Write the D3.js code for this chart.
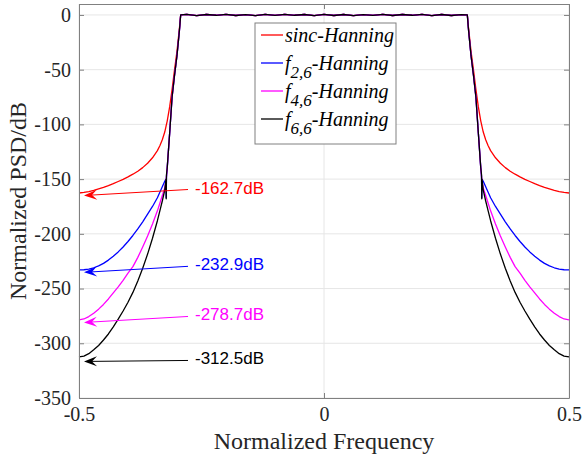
<!DOCTYPE html>
<html>
<head>
<meta charset="utf-8">
<script src="https://cdn.jsdelivr.net/npm/d3@7/dist/d3.min.js"></script>
<style>
  body { margin: 0; background: #fff; }
</style>
</head>
<body>
<div class="chart"></div>
<script>
// |frequency| grid of the stopband, the spectrum is symmetric about 0
const stopFreq = [0.2925, 0.295, 0.30, 0.305, 0.31, 0.315, 0.32, 0.3215, 0.322, 0.3225, 0.325, 0.33, 0.335, 0.34,
  0.35, 0.36, 0.37, 0.38, 0.39, 0.40, 0.41, 0.42, 0.43, 0.44, 0.45, 0.46, 0.47, 0.48, 0.49, 0.50];

const sincHann = [0, -12, -33, -50, -68, -84, -97, -100, -101, -102, -107, -114, -119.5, -124,
  -130.5, -135.5, -139.5, -142.8, -145.5, -148, -150.2, -152.2, -154.2, -156, -157.6, -159, -160.3, -161.4, -162.2, -162.7];
const f26Hann = [0, -14, -37, -55, -75, -108, -140, -148, -167, -150, -152, -157, -162, -167,
  -175, -182, -189, -195.5, -201.5, -207, -212, -216.5, -220.5, -224, -227, -229.3, -231, -232.2, -232.8, -232.9];
const f46Hann = [0, -14, -37, -55, -75, -108, -140, -148, -150, -152, -158, -165, -172, -179,
  -191, -202, -212, -221.5, -230, -236, -242.5, -248.5, -254, -259.5, -264.5, -268.8, -272.5, -275.6, -277.8, -278.7];
const f66Hann = [0, -14, -37, -55, -75, -108, -140, -146, -168, -150, -160, -170, -179, -188,
  -204, -218.5, -231.5, -243, -253.5, -262.5, -270.5, -278, -285, -291.5, -297, -302, -306, -309.5, -311.7, -312.5];

// passband ripple (dB) between the two band edges
const passFreq = [-0.28, -0.26, -0.24, -0.22, -0.20, -0.18, -0.16, -0.14, -0.12, -0.10, -0.08, -0.06, -0.04, -0.02, 0,
  0.02, 0.04, 0.06, 0.08, 0.10, 0.12, 0.14, 0.16, 0.18, 0.20, 0.22, 0.24, 0.26, 0.28];
const passDb = [0.5, -0.6, 0.4, -0.3, 0.6, -0.5, 0.3, -0.6, 0.5, -0.4, 0.6, -0.3, 0.4, -0.6, 0.5,
  -0.5, 0.4, -0.6, 0.3, -0.4, 0.6, -0.5, 0.4, -0.3, 0.6, -0.6, 0.4, -0.5, 0.3];

const seriesValues = [sincHann, f26Hann, f46Hann, f66Hann];
const seriesColors = ['#ff0000', '#0000ff', '#ff00ff', '#000000'];

const endLabels = ['-162.7dB', '-232.9dB', '-278.7dB', '-312.5dB'];
const endValues = [-162.7, -232.9, -278.7, -312.5];

const xTicks = [-0.5, 0, 0.5];
const yTicks = [0, -50, -100, -150, -200, -250, -300, -350];

const width = 583, height = 461;
const box = { left: 79, right: 569, top: 4, bottom: 398 };
const serif = '"Liberation Serif", "Times New Roman", serif';

const svg = d3.select('.chart')
  .append('svg')
  .attr('width', width)
  .attr('height', height);

const x = d3.scaleLinear().domain([-0.5, 0.5]).range([box.left, box.right]);
const y = d3.scaleLinear().domain([-350, 10]).range([box.bottom, box.top]);

// grid
svg.append('g')
  .selectAll('line')
  .data(yTicks)
  .enter().append('line')
  .attr('x1', box.left).attr('x2', box.right)
  .attr('y1', d => y(d)).attr('y2', d => y(d))
  .attr('stroke', '#e6e6e6').attr('stroke-width', 1);
svg.append('g')
  .selectAll('line')
  .data(xTicks)
  .enter().append('line')
  .attr('x1', d => x(d)).attr('x2', d => x(d))
  .attr('y1', box.top).attr('y2', box.bottom)
  .attr('stroke', '#e6e6e6').attr('stroke-width', 1);

// build each full curve: left stopband, passband, right stopband
const buildSeries = vals => {
  const pts = [];
  for (let i = stopFreq.length - 1; i >= 0; i--) pts.push([-stopFreq[i], vals[i]]);
  passFreq.forEach((f, i) => pts.push([f, passDb[i]]));
  for (let i = 0; i < stopFreq.length; i++) pts.push([stopFreq[i], vals[i]]);
  return pts;
};

const line = d3.line()
  .x(d => x(d[0]))
  .y(d => y(d[1]));

svg.append('g')
  .selectAll('path')
  .data(seriesValues)
  .enter().append('path')
  .attr('d', d => line(buildSeries(d)))
  .attr('fill', 'none')
  .attr('stroke', (d, i) => seriesColors[i])
  .attr('stroke-width', 1.3)
  .attr('stroke-linejoin', 'round');

// axes (box with inward ticks)
const axisStyle = g => {
  g.attr('font-family', serif).attr('font-size', 20);
  g.select('.domain').attr('stroke', '#808080');
  g.selectAll('.tick line').attr('stroke', '#808080');
  g.selectAll('.tick text').attr('fill', '#262626');
};
const fmt = d => String(d);

svg.append('g')
  .attr('transform', `translate(${box.left},0)`)
  .call(d3.axisLeft(y).tickValues(yTicks).tickSizeInner(-5).tickSizeOuter(0).tickPadding(8).tickFormat(fmt))
  .call(axisStyle);
svg.append('g')
  .attr('transform', `translate(${box.right},0)`)
  .call(d3.axisRight(y).tickValues(yTicks).tickSizeInner(-5).tickSizeOuter(0).tickFormat(''))
  .call(axisStyle);
svg.append('g')
  .attr('transform', `translate(0,${box.bottom})`)
  .call(d3.axisBottom(x).tickValues(xTicks).tickSizeInner(-5).tickSizeOuter(0).tickPadding(9).tickFormat(fmt))
  .call(axisStyle);
svg.append('g')
  .attr('transform', `translate(0,${box.top})`)
  .call(d3.axisTop(x).tickValues(xTicks).tickSizeInner(-5).tickSizeOuter(0).tickFormat(''))
  .call(axisStyle);

// axis titles
svg.append('text')
  .attr('x', (box.left + box.right) / 2)
  .attr('y', 449)
  .attr('text-anchor', 'middle')
  .attr('font-family', serif)
  .attr('font-size', 24)
  .attr('fill', '#262626')
  .text('Normalized Frequency');
svg.append('text')
  .attr('transform', `translate(26,${(box.top + box.bottom) / 2}) rotate(-90)`)
  .attr('text-anchor', 'middle')
  .attr('font-family', serif)
  .attr('font-size', 24)
  .attr('fill', '#262626')
  .text('Normalized PSD/dB');

// end-value annotations with arrows
const arrowRise = [6, 6, 6, 1];
const tipDrop = [2.5, 2.5, 2.5, 4.5];
const anno = svg.append('g');
endValues.forEach((v, i) => {
  const tipX = x(-0.5) + 5, tipY = y(v) + tipDrop[i];
  const tailX = 188, tailY = tipY - arrowRise[i];
  const c = seriesColors[i];
  anno.append('line')
    .attr('x1', tailX).attr('y1', tailY)
    .attr('x2', tipX + 8).attr('y2', tipY - arrowRise[i] * 8 / (tailX - tipX))
    .attr('stroke', c).attr('stroke-width', 1);
  const ang = Math.atan2(tailY - tipY, tailX - tipX) * 180 / Math.PI;
  anno.append('path')
    .attr('d', 'M0,0 L13,-5 L8,0 L13,5 Z')
    .attr('transform', `translate(${tipX},${tipY}) rotate(${ang})`)
    .attr('fill', c);
  anno.append('text')
    .attr('x', 195)
    .attr('y', tailY + 4)
    .attr('font-size', 17)
    .attr('font-family', '"Liberation Sans", Arial, sans-serif')
    .attr('fill', c)
    .text(endLabels[i]);
});

// legend
const lg = svg.append('g').attr('transform', 'translate(255,23)');
lg.append('rect')
  .attr('width', 141).attr('height', 121)
  .attr('fill', '#fff').attr('stroke', '#808080').attr('stroke-width', 1);
const legendRows = [
  { main: 'sinc-Hanning' },
  { f: 'f', sub: '2,6' },
  { f: 'f', sub: '4,6' },
  { f: 'f', sub: '6,6' }
];
legendRows.forEach((r, i) => {
  const cy = 12 + i * 28;
  lg.append('line')
    .attr('x1', 6).attr('x2', 28).attr('y1', cy).attr('y2', cy)
    .attr('stroke', seriesColors[i]).attr('stroke-width', 1.3);
  const t = lg.append('text')
    .attr('x', 30).attr('y', cy + 7)
    .attr('font-family', serif)
    .attr('font-size', 20).attr('font-style', 'italic').attr('fill', '#000');
  if (r.main) {
    t.text(r.main);
  } else {
    t.append('tspan').text(r.f);
    t.append('tspan').attr('font-size', 17).attr('dy', 8).text(r.sub);
    t.append('tspan').attr('dy', -8).text('-Hanning');
  }
});
</script>
</body>
</html>
